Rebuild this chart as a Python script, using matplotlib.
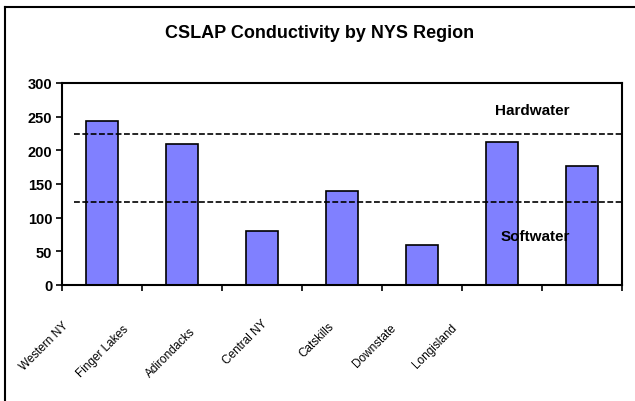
import matplotlib
matplotlib.use('Agg')
import matplotlib.pyplot as plt
import numpy as np

plt.rcParams['font.family'] = ['Liberation Sans', 'DejaVu Sans']

regions = ['Western NY', 'Finger Lakes', 'Adirondacks', 'Central NY',
           'Catskills', 'Downstate', 'Longisland']
conductivity = [244, 210, 80, 139, 59, 212, 176]
hardwater = 224
softwater = 123

fig = plt.figure(figsize=(6.35, 4.02), dpi=100)
ax = fig.add_axes([62/635, 116/402, 560/635, 202/402])

x = np.arange(len(regions))
ax.bar(x, conductivity, width=0.4, color='#8080ff', edgecolor='black', linewidth=1.2, zorder=2)

# threshold lines
ax.hlines([hardwater, softwater], -0.35, 6.5, colors='black', linestyles=(0, (3.5, 1.5)),
          linewidth=1.2, zorder=3)
ax.text(5.375, 260, 'Hardwater', ha='center', va='center', fontsize=11, fontweight='bold')
ax.text(5.41, 73, 'Softwater', ha='center', va='center', fontsize=11, fontweight='bold', zorder=4)

ax.set_xlim(-0.5, 6.5)
ax.set_ylim(0, 300)
ax.set_yticks(np.arange(0, 301, 50))
ax.set_xticks(np.arange(-0.5, 7, 1))
ax.set_xticklabels([])
ax.tick_params(axis='both', direction='out', length=4, width=1.2, pad=3)
for lab in ax.get_yticklabels():
    lab.set_fontsize(10.5)
    lab.set_fontweight('bold')
for s in ax.spines.values():
    s.set_linewidth(1.5)

# category labels (squeezed like the original)
label_x = [44, 103, 171, 245, 317, 375, 435]
label_y = [347, 352, 353, 343, 340, 346, 347]
for name, px, py in zip(regions, label_x, label_y):
    fig.text(px/635, 1 - py/402, name, rotation=45, ha='center', va='center', fontsize=8.5)

fig.text(320/635, 1 - 33/402, 'CSLAP Conductivity by NYS Region', ha='center', va='center',
         fontsize=13, fontweight='bold')

# outer frame (only left and top visible in crop)
fig.add_artist(plt.Line2D([4.5/635, 4.5/635], [0, 1 - 7.5/402], transform=fig.transFigure,
                          color='black', linewidth=1.5))
fig.add_artist(plt.Line2D([4.5/635, 1], [1 - 7.5/402, 1 - 7.5/402], transform=fig.transFigure,
                          color='black', linewidth=1.5))

fig.savefig('out.png', dpi=100)
